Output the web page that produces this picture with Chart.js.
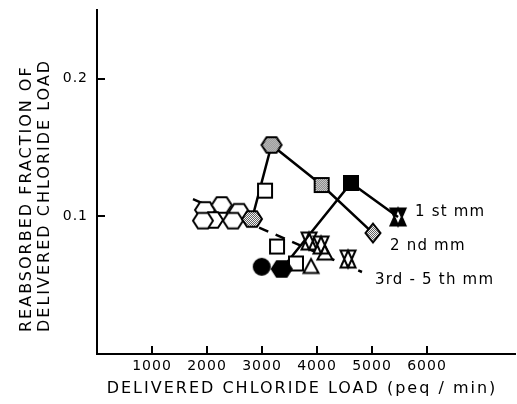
<!DOCTYPE html>
<html>
<head>
<meta charset="utf-8">
<script src="https://cdn.jsdelivr.net/npm/chart.js@4.4.1/dist/chart.umd.min.js"></script>
<style>
  html, body { margin: 0; padding: 0; background: #fff; }
  canvas { display: block; }
</style>
</head>
<body>
<canvas id="chart" width="517" height="404"></canvas>
<script>
// axis ticks
const xTicks = [1000, 2000, 3000, 4000, 5000, 6000];
const yTicks = [0.1, 0.2];

// each point carries an animal id, drawn with its own marker shape
// 1st mm (filled markers, solid line)
const firstX = [2995, 3358, 4618, 5473];
const firstY = [0.0634, 0.0618, 0.1243, 0.0996];
const firstId = ['A', 'B', 'C', 'D'];
const firstPath = [1, 2, 3];

// 2nd mm (stippled markers, solid line)
const secondX = [2818, 3173, 4085, 5018];
const secondY = [0.0981, 0.1519, 0.1228, 0.0879];
const secondId = ['B', 'B', 'C', 'F'];
const secondPath = [0, 1, 2, 3];

// 3rd - 5th mm (open markers, dashed trend)
const thirdX = [1964, 2267, 2109, 1927, 2582, 2473, 3055, 3273, 3618, 3891, 4145, 3855, 4073, 4564];
const thirdY = [0.1047, 0.1083, 0.0974, 0.0969, 0.1034, 0.0969, 0.1187, 0.0781, 0.0658, 0.0636, 0.0734, 0.0821, 0.0792, 0.0690];
const thirdId = ['B', 'B', 'B', 'B', 'B', 'B', 'C', 'C', 'C', 'E', 'E', 'D', 'D', 'D'];
const thirdTrendX = [1745, 4818];
const thirdTrendY = [0.1126, 0.0596];

const seriesNames = ['1 st mm', '2 nd mm', '3rd - 5 th mm'];
const xTitle = 'DELIVERED CHLORIDE LOAD (peq / min)';
const yTitle = ['REABSORBED FRACTION OF', 'DELIVERED CHLORIDE LOAD'];

const FONT = '"DejaVu Sans", sans-serif';
const markerShape = { A: 'circle', B: 'hexagon', C: 'square', D: 'hourglass', E: 'triangle', F: 'diamond' };

const shapes = {
  circle(g) { g.arc(0, 0, 8, 0, Math.PI * 2); },
  hexagon(g) {
    for (let k = 0; k < 6; k++) {
      const a = k * Math.PI / 3;
      g.lineTo(10 * Math.cos(a), 9 * Math.sin(a));
    }
    g.closePath();
  },
  square(g) { g.rect(-7, -7, 14, 14); },
  triangle(g) { g.moveTo(-7.5, 6.5); g.lineTo(7.5, 6.5); g.lineTo(0, -7.5); g.closePath(); },
  hourglass(g) {
    g.moveTo(-7.5, -8.5); g.lineTo(7.5, -8.5); g.lineTo(0, 8.5); g.closePath();
    g.moveTo(-7.5, 8.5); g.lineTo(7.5, 8.5); g.lineTo(0, -8.5); g.closePath();
  },
  diamond(g) { g.moveTo(0, -9.5); g.lineTo(7.5, 0); g.lineTo(0, 9.5); g.lineTo(-7.5, 0); g.closePath(); }
};

function stipple(g) {
  const p = document.createElement('canvas');
  p.width = p.height = 2;
  const pg = p.getContext('2d');
  pg.fillStyle = '#fff';
  pg.fillRect(0, 0, 2, 2);
  pg.fillStyle = '#555';
  pg.fillRect(0, 0, 1, 1);
  pg.fillRect(1, 1, 1, 1);
  return g.createPattern(p, 'repeat');
}

function makeMarker(shape, fill) {
  const c = document.createElement('canvas');
  c.width = c.height = 26;
  const g = c.getContext('2d');
  g.translate(13, 13);
  g.lineWidth = 2;
  g.strokeStyle = '#000';
  g.fillStyle = fill === 'filled' ? '#000' : fill === 'stippled' ? stipple(g) : '#fff';
  g.beginPath();
  shapes[shape](g);
  g.fill();
  g.stroke();
  return c;
}

const markers = {};
for (const fill of ['filled', 'stippled', 'open']) {
  markers[fill] = {};
  for (const s of Object.keys(shapes)) markers[fill][s] = makeMarker(s, fill);
}

const pts = (xs, ys) => xs.map((x, i) => ({ x, y: ys[i] }));
const path = (xs, ys, idx) => idx.map(i => ({ x: xs[i], y: ys[i] }));

function markerSet(xs, ys, ids, fill, order) {
  return {
    data: pts(xs, ys),
    showLine: false,
    pointRadius: 8,
    pointStyle: ctx => markers[fill][markerShape[ids[ctx.dataIndex]]],
    order
  };
}

function lineSet(data, dash) {
  return {
    data,
    showLine: true,
    pointRadius: 0,
    borderColor: '#000',
    borderWidth: 2.5,
    borderDash: dash,
    order: 5
  };
}

const labelsPlugin = {
  id: 'labels',
  beforeDraw(chart) {
    chart.ctx.letterSpacing = '1px';
  },
  afterDraw(chart) {
    const { ctx, scales: { x, y } } = chart;
    ctx.save();
    ctx.fillStyle = '#000';
    ctx.textBaseline = 'middle';

    // axis titles
    ctx.font = '16px ' + FONT;
    ctx.letterSpacing = '2px';
    ctx.textAlign = 'center';
    ctx.fillText(xTitle, 302, 389);
    ctx.save();
    ctx.translate(27, 332);
    ctx.rotate(-Math.PI / 2);
    ctx.textAlign = 'left';
    ctx.fillText(yTitle[0], 0, 0);
    ctx.fillText(yTitle[1], 0, 18);
    ctx.restore();

    // series labels next to the end of each curve
    ctx.font = '15px ' + FONT;
    ctx.letterSpacing = '1.2px';
    ctx.textAlign = 'left';
    const ends = [
      [firstX[3], firstY[3], 17, -5],
      [secondX[3], secondY[3], 17, 13],
      [thirdTrendX[1], thirdTrendY[1], 13, 8]
    ];
    ends.forEach(([vx, vy, dx, dy], i) => {
      ctx.fillText(seriesNames[i], x.getPixelForValue(vx) + dx, y.getPixelForValue(vy) + dy);
    });
    ctx.restore();
  }
};

new Chart(document.getElementById('chart'), {
  type: 'scatter',
  data: {
    datasets: [
      markerSet(firstX, firstY, firstId, 'filled', 0),
      markerSet(secondX, secondY, secondId, 'stippled', 1),
      markerSet(thirdX, thirdY, thirdId, 'open', 2),
      lineSet(path(firstX, firstY, firstPath), []),
      lineSet(path(secondX, secondY, secondPath), []),
      lineSet(pts(thirdTrendX, thirdTrendY), [10, 8])
    ]
  },
  options: {
    responsive: false,
    devicePixelRatio: 1,
    animation: false,
    events: [],
    layout: { autoPadding: false, padding: { left: 0, top: 10, right: 2, bottom: 0 } },
    plugins: {
      legend: { display: false },
      tooltip: { enabled: false }
    },
    scales: {
      x: {
        type: 'linear',
        min: 0,
        max: 7600,
        afterFit: s => { s.height = 50; s.paddingLeft = 0; s.paddingRight = 0; },
        afterBuildTicks: s => { s.ticks = xTicks.map(v => ({ value: v })); },
        border: { color: '#000', width: 2 },
        grid: { drawOnChartArea: false, color: '#000', lineWidth: 2, tickLength: -8 },
        ticks: {
          color: '#000',
          font: { family: FONT, size: 14 },
          padding: 12,
          maxRotation: 0,
          callback: v => String(v)
        }
      },
      y: {
        type: 'linear',
        min: 0,
        max: 0.25,
        afterFit: s => { s.width = 97; s.paddingTop = 0; s.paddingBottom = 0; },
        afterBuildTicks: s => { s.ticks = yTicks.map(v => ({ value: v })); },
        border: { color: '#000', width: 2 },
        grid: { drawOnChartArea: false, color: '#000', lineWidth: 2, tickLength: -8 },
        ticks: {
          color: '#000',
          font: { family: FONT, size: 14 },
          padding: 17,
          callback: v => v.toFixed(1)
        }
      }
    }
  },
  plugins: [labelsPlugin]
});
</script>
</body>
</html>
